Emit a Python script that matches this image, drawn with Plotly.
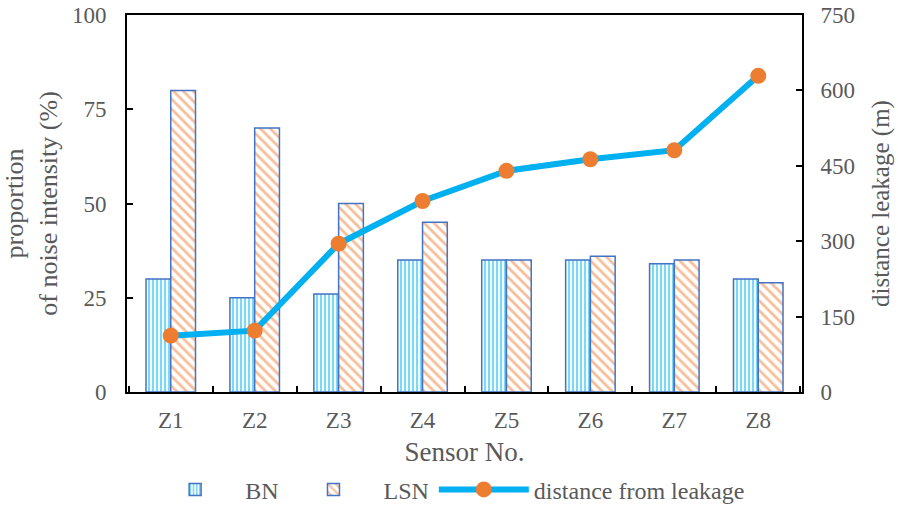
import plotly.graph_objects as go

categories = ["Z1", "Z2", "Z3", "Z4", "Z5", "Z6", "Z7", "Z8"]
bn_values = [30, 25, 26, 35, 35, 35, 34, 30]
lsn_values = [80, 70, 50, 45, 35, 36, 35, 29]
distance_values = [112, 122, 295, 380, 440, 463, 481, 629]

left_ticks = [0, 25, 50, 75, 100]
right_ticks = [0, 150, 300, 450, 600, 750]

FONT = "Liberation Serif, Times New Roman, serif"
GRAY = "#595959"
OUTLINE = "#4472C4"

fig = go.Figure()
fig.add_trace(go.Bar(
    x=categories, y=bn_values, name="BN",
    marker=dict(color="white", line=dict(color=OUTLINE, width=1.5),
                pattern=dict(shape="|", fgcolor="#00B0F0", bgcolor="white",
                             size=4, solidity=0.55)),
))
fig.add_trace(go.Bar(
    x=categories, y=lsn_values, name="LSN",
    marker=dict(color="white", line=dict(color=OUTLINE, width=1.5),
                pattern=dict(shape="\\", fgcolor="#ED7D31", bgcolor="white",
                             size=7, solidity=0.4)),
))
fig.add_trace(go.Scatter(
    x=categories, y=distance_values, name="distance from leakage",
    yaxis="y2", mode="lines+markers",
    line=dict(color="#00B0F0", width=6),
    marker=dict(color="#ED7D31", size=16, line=dict(width=0)),
))

fig.update_layout(
    width=898, height=506,
    margin=dict(l=127, r=96, t=15, b=114, autoexpand=False),
    paper_bgcolor="white", plot_bgcolor="white",
    font=dict(family=FONT, color=GRAY, size=23),
    barmode="group", bargap=0.41, bargroupgap=0,
    showlegend=True,
    legend=dict(orientation="h", x=0.475, xanchor="center",
                yref="container", y=0.032, yanchor="middle",
                font=dict(size=24, color=GRAY, family=FONT), itemwidth=90,
                traceorder="normal", bgcolor="rgba(0,0,0,0)"),
    xaxis=dict(
        title=dict(text="Sensor No.", font=dict(size=27, color=GRAY), standoff=18),
        automargin=True,
        showline=True, linecolor="black", linewidth=2, mirror=True,
        ticks="inside", tickson="boundaries", ticklen=6, tickcolor="black", tickwidth=1.5,
        tickfont=dict(size=23, color=GRAY), ticklabelstandoff=6, showgrid=False,
    ),
    yaxis=dict(
        title=dict(text="proportion<br>of noise intensity (%)", font=dict(size=26, color=GRAY), standoff=10),
        automargin=True,
        range=[0, 100], tickvals=left_ticks,
        showline=True, linecolor="black", linewidth=2, mirror=True,
        ticks="inside", ticklen=6, tickcolor="black", tickwidth=1.5,
        tickfont=dict(size=23, color=GRAY), ticklabelstandoff=14,
        showgrid=False, zeroline=False,
    ),
    yaxis2=dict(
        title=dict(text="distance leakage (m)", font=dict(size=25, color=GRAY), standoff=17),
        automargin=True,
        range=[0, 750], tickvals=right_ticks, overlaying="y", side="right",
        showline=True, linecolor="black", linewidth=2,
        ticks="inside", ticklen=6, tickcolor="black", tickwidth=1.5,
        tickfont=dict(size=23, color=GRAY), ticklabelstandoff=12,
        showgrid=False, zeroline=False,
    ),
)

fig.write_html("out.html", config={"displayModeBar": False},
               post_script="document.body.style.margin='0px';")
